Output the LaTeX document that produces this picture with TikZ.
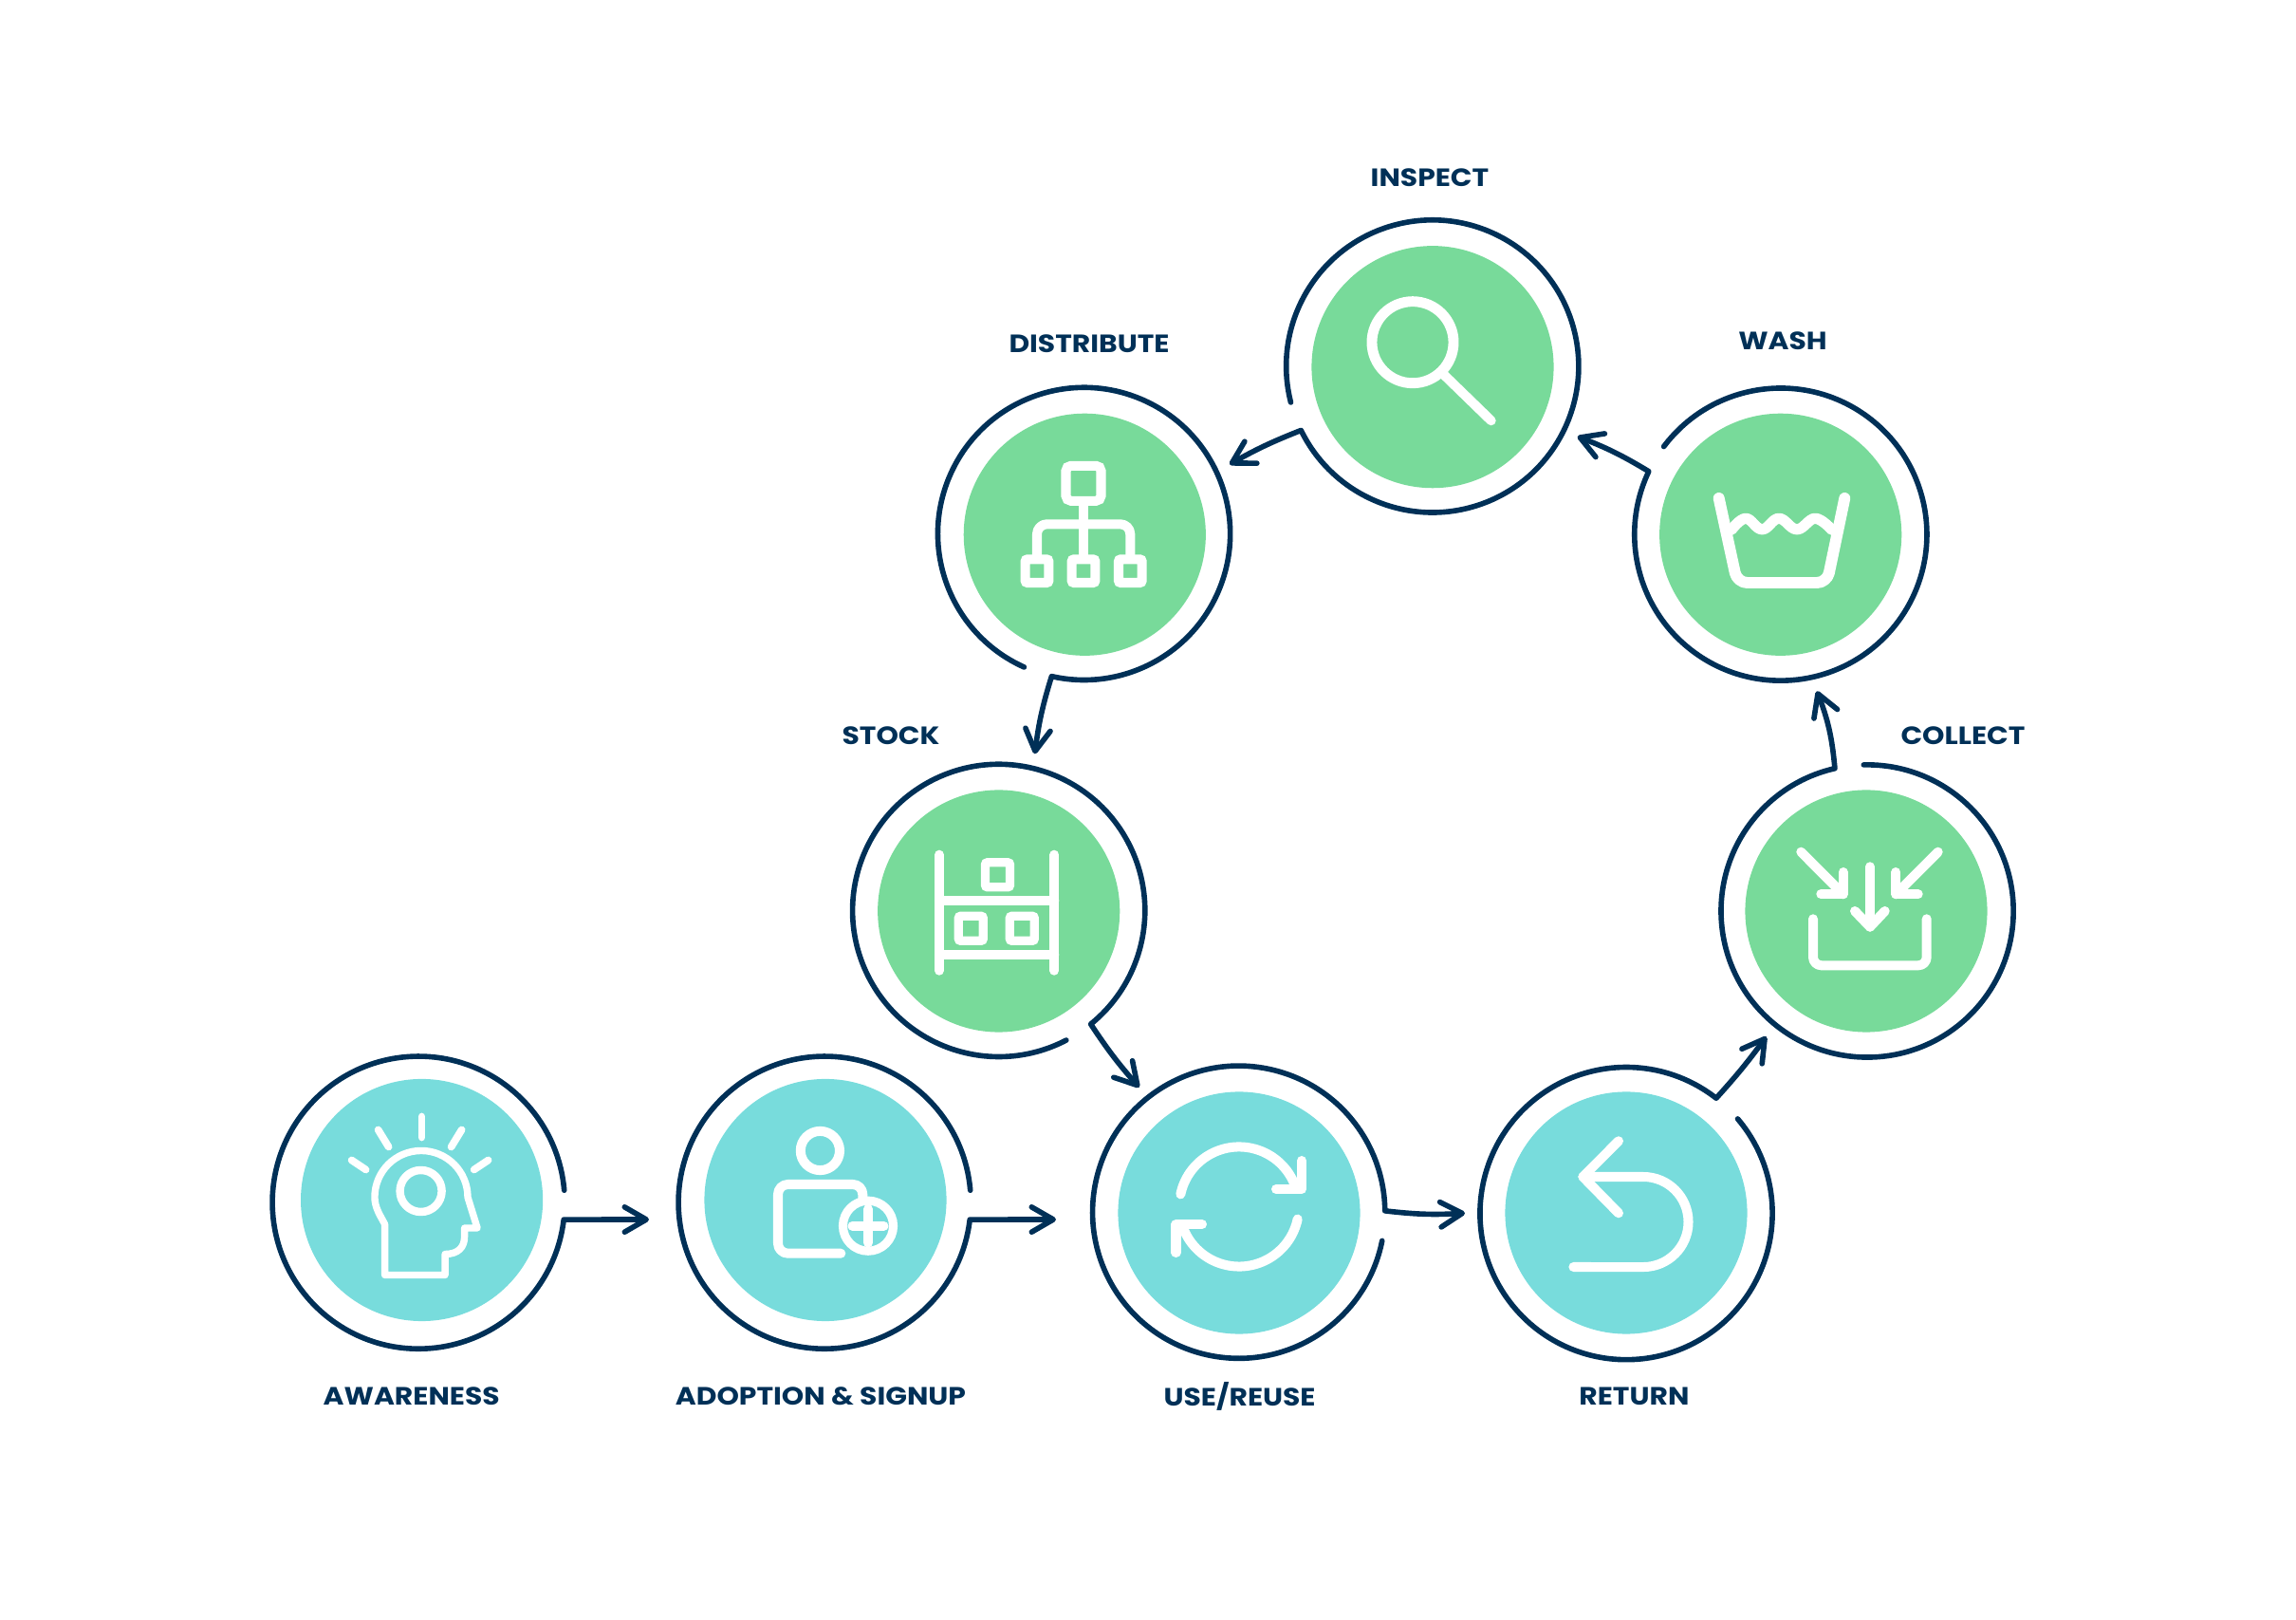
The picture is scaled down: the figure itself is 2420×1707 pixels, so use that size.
\documentclass[tikz,border=0pt]{standalone}
\usepackage{fontspec}
\setmainfont{Poppins}[FakeStretch=1.13]
\usetikzlibrary{arrows.meta}
\definecolor{lcnavy}{RGB}{0,48,87}
\definecolor{lcgreen}{RGB}{120,218,154}
\definecolor{lcteal}{RGB}{120,220,220}
\begin{document}
\begin{tikzpicture}[x=0.01cm,y=-0.01cm,
  stage/.style={circle,inner sep=0pt,outer sep=0pt,minimum size=3.08cm},
  disc/.style={circle,inner sep=0pt,outer sep=0pt,minimum size=2.55cm},
  ringline/.style={draw=lcnavy,line width=1.6pt,line cap=round,line join=round,-{Straight Barb[length=6.5pt,width=7.5pt,round]}},
  icon/.style={draw=white,line width=2.85pt,line cap=round,line join=round},
  iconbox/.style={draw=white,line width=2.6pt,rounded corners=0.6pt},
  caption/.style={font=\bfseries\fontsize{7.5pt}{9pt}\selectfont,text=lcnavy,inner sep=0pt}]
  \useasboundingbox (0,0) rectangle (2420,1707);
  % Stages: outer ring node and filled disc
  \foreach \name/\x/\y/\dx/\dy/\col in {
    awareness/441/1265/444.6/1264.5/lcteal,
    adoption/869/1265/870/1264.5/lcteal,
    reuse/1305.5/1278/1306/1278/lcteal,
    return/1713.5/1278/1714/1278/lcteal,
    collect/1967/960/1967/960/lcgreen,
    wash/1876.7/563.3/1876.7/563.3/lcgreen,
    inspect/1510/386.7/1510/386.7/lcgreen,
    distribute/1144.5/563.3/1143.3/563.3/lcgreen,
    stock/1051.5/960/1052.7/960/lcgreen}{
    \node[stage] (\name) at (\x,\y) {};
    \node[disc,fill=\col] (d\name) at (\dx,\dy) {};
  }
  % Rings with their outgoing arrows
  \foreach \name/\next/\from/\to/\bend/\tx/\ty in {
    awareness/adoption/4.8/353.3/0/684/1285,
    adoption/reuse/4.8/353.3/0/1113/1285,
    reuse/return/-11.3/-359.5/-5/1544/1278.3,
    return/collect/40.3/-308/-3/1861.7/1092.3,
    collect/wash/91.4/-257.2/-8/1915/728.3,
    wash/inspect/143.1/-205.5/-5/1662.7/460,
    inspect/distribute/194.3/-154/-4/1296/489.3,
    distribute/stock/245.8/-102.8/-5/1090.7/794.3,
    stock/reuse2/-62.5/-411/-4/1200.7/1145.7}{
    \coordinate (tip\next) at (\tx,\ty);
    \draw[ringline] (\name.\from) arc[start angle=\from,end angle=\to,radius=1.54cm]
      to[bend left=\bend] (tip\next);
  }
  % Awareness icon
  \begin{scope}[shift={(dawareness.center)}]
    \foreach \ax/\ay/\bx/\by in {0/-88/0/-66,-46/-74/-35/-56,42/-74/31/-56,-74/-42/-59/-32,70/-42/55/-32}
      \draw[icon,line width=2.2pt] (\ax,\ay) -- (\bx,\by);
    \draw[icon,line width=2.1pt] (58.5,29.5) -- (48.4,-3) arc[start angle=0,end angle=180,radius=0.49cm]
      .. controls (-49.6,8) and (-44,16) .. (-39,25.5) -- (-39,79) -- (24.5,79) -- (24.5,57)
      .. controls (38,57) and (45,50) .. (45,38.5) -- (45,29.5) -- cycle;
    \draw[icon,line width=2.4pt] (-1,-9.5) circle[radius=0.22cm];
  \end{scope}
  % Adoption icon
  \begin{scope}[shift={(dadoption.center)}]
    \draw[icon] (-5.6,-52) circle[radius=0.206cm];
    \draw[icon,rounded corners=3pt] (16.3,56.2) -- (-50,56.2) -- (-50,-16.5) -- (39.3,-16.5) -- (39.3,0);
    \draw[icon,line width=2.6pt,fill=lcteal] (45,27.2) circle[radius=0.265cm];
    \draw[icon] (45,9.5) -- (45,45);
    \draw[icon] (28.5,27.2) -- (61.5,27.2);
  \end{scope}
  % Use/reuse icon
  \begin{scope}[shift={(dreuse.center)}]
    \draw[icon] (0,-6.5) ++(168:0.63cm) arc[start angle=168,end angle=23,radius=0.63cm];
    \draw[icon] (0,-6.5) ++(-12:0.63cm) arc[start angle=-12,end angle=-156,radius=0.63cm];
    \draw[icon] (66,-55) -- (66,-25) -- (39,-25);
    \draw[icon] (-66.5,42) -- (-66.5,12) -- (-39,12);
  \end{scope}
  % Return icon
  \begin{scope}[shift={(dreturn.center)}]
    \draw[icon] (-8,-75.7) -- (-45.6,-38) -- (-8,0.3);
    \draw[icon] (-45.6,-38) -- (18,-38) arc[start angle=90,end angle=-90,radius=0.475cm] -- (-55.6,57);
  \end{scope}
  % Collect icon
  \begin{scope}[shift={(dcollect.center)}]
    \draw[icon,rounded corners=2.5pt] (-56,8.3) -- (-56,57.3) -- (63.7,57.3) -- (63.7,8.3);
    \draw[icon] (4,-46.7) -- (4,16.7);
    \draw[icon] (-12,0) -- (4,16.7) -- (19.7,0);
    \draw[icon] (-68.7,-62.3) -- (-24.3,-17.7);
    \draw[icon] (-24.3,-41) -- (-24.3,-17.7) -- (-47.7,-17.7);
    \draw[icon] (75.7,-62.3) -- (31.3,-17.7);
    \draw[icon] (31.3,-41) -- (31.3,-17.7) -- (54.7,-17.7);
  \end{scope}
  % Wash icon
  \begin{scope}[shift={(dwash.center)}]
    \draw[icon,line width=3.4pt,rounded corners=3pt] (-65,-38.3) -- (-45.7,50.7) -- (49,50.7) -- (67.6,-38.3);
    \draw[icon,line width=3.2pt] plot[smooth,tension=0.7] coordinates {(-51.7,-5) (-36.7,-17) (-19.4,-5.5) (-1.7,-17) (17.3,-5.5) (36.6,-17) (54,-5)};
  \end{scope}
  % Inspect icon
  \begin{scope}[shift={(dinspect.center)}]
    \draw[icon,line width=3.1pt] (-21,-26) circle[radius=0.43cm];
    \draw[icon] (12.7,9) -- (61.7,56.6);
  \end{scope}
  % Distribute icon
  \begin{scope}[shift={(ddistribute.center)}]
    \draw[iconbox,line width=2.85pt,rounded corners=1.5pt] (-19.8,-72.5) rectangle (17.2,-35.5);
    \foreach \bx in {-50.3,-1.3,48}
      \draw[iconbox,line width=2.85pt] (\bx-12.3,26.1) rectangle (\bx+12.3,50.7);
    \draw[icon,line cap=butt] (-1.3,-35.5) -- (-1.3,26.1);
    \draw[icon,line cap=butt,rounded corners=3pt] (-50.3,26.1) -- (-50.3,-11) -- (48,-11) -- (48,26.1);
  \end{scope}
  % Stock icon
  \begin{scope}[shift={(dstock.center)}]
    \draw[icon] (-62.7,-59.3) -- (-62.7,62.7);
    \draw[icon] (58.6,-59.3) -- (58.6,62.7);
    \draw[icon] (-62.7,-11) -- (58.6,-11);
    \draw[icon] (-62.7,46) -- (58.6,46);
    \foreach \bx/\by in {-1.2/-38.2,-29.4/18.3,24.6/18.3}
      \draw[iconbox] (\bx-13,\by-13) rectangle (\bx+13,\by+13);
  \end{scope}
  % Captions
  \node[caption] (lawareness) at (433.7,1471) {AWARENESS};
  \node[caption] (ladoption) at (865,1471) {ADOPTION \& SIGNUP};
  \node[caption] (lreuse) at (1306.6,1471) {USE/REUSE};
  \node[caption] (lreturn) at (1722.4,1471) {RETURN};
  \node[caption] (lstock) at (939,775) {STOCK};
  \node[caption] (lcollect) at (2069,775) {COLLECT};
  \node[caption] (ldistribute) at (1148,362) {DISTRIBUTE};
  \node[caption] (lwash) at (1879,359) {WASH};
  \node[caption] (linspect) at (1507,187) {INSPECT};
\end{tikzpicture}
\end{document}
